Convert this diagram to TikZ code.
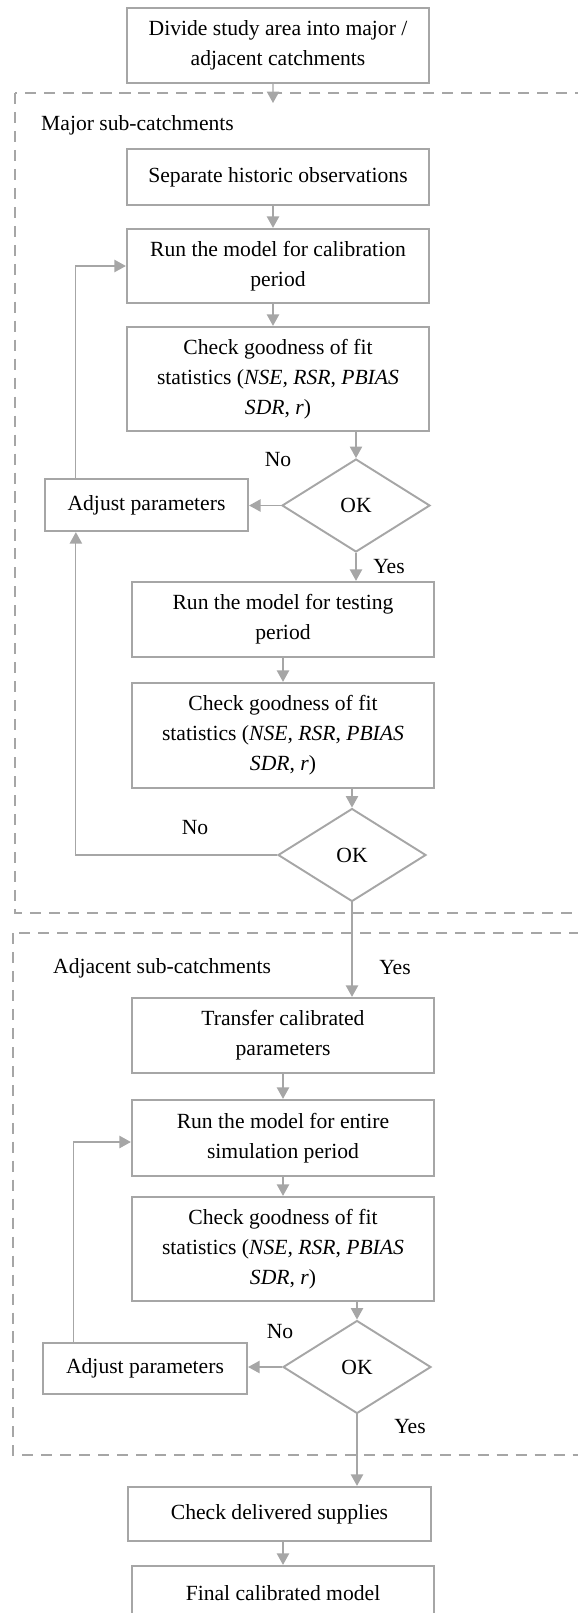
\documentclass[tikz,border=0pt]{standalone}
\usepackage{fontspec}
\setmainfont{Liberation Serif}
\usetikzlibrary{arrows.meta,shapes.geometric}
\definecolor{flowgray}{RGB}{166,166,166}

\begin{document}
\begin{tikzpicture}[x=0.02cm,y=-0.02cm,font=\fontsize{12.3}{17}\selectfont,
  box/.style={draw=flowgray,line width=1.3pt,minimum width=6.04cm,align=center,inner sep=0pt},
  okbox/.style={diamond,draw=flowgray,line width=1.1pt,aspect=1.6,minimum width=2.96cm,minimum height=1.86cm,inner sep=0pt},
  groupbox/.style={draw=flowgray,line width=1.1pt,dash pattern=on 6.3pt off 4.5pt},
  arr/.style={draw=flowgray,line width=0.7pt,-{Triangle[length=6.5pt,width=7pt]}}]
\path[use as bounding box] (0,0) rectangle (578,1613);
\clip (0,0) rectangle (578,1613);

% dashed groups
\draw[groupbox] (15,93) rectangle (600,913);
\draw[groupbox] (13,933) rectangle (600,1455);
\node[anchor=west] (majorlbl) at (35,125) {Major sub-catchments};
\node[anchor=west] (adjlbl) at (47,968) {Adjacent sub-catchments};

\node[box,minimum height=1.5cm] (divide) at (278,45.5) {Divide study area into major /\\adjacent catchments};
\coordinate (majortop) at (273,103);

% major sub-catchments
\node[box,minimum height=1.12cm] (separate) at (278,177) {Separate historic observations};
\node[box,minimum height=1.48cm] (runcal) at (278,266) {Run the model for calibration\\period};
\node[box,minimum height=2.08cm] (check1) at (278,379) {Check goodness of fit\\statistics (\textit{NSE, RSR}, \textit{PBIAS}\\\textit{SDR}, \textit{r})};
\node[okbox] (ok1) at (356,505.5) {OK};
\node[box,minimum width=4.06cm,minimum height=1.04cm] (adjust1) at (146.5,505) {Adjust parameters};
\node[box,minimum height=1.5cm] (runtest) at (283,619.5) {Run the model for testing\\period};
\node[box,minimum height=2.1cm] (check2) at (283,735.5) {Check goodness of fit\\statistics (\textit{NSE, RSR}, \textit{PBIAS}\\\textit{SDR}, \textit{r})};
\node[okbox] (ok2) at (352,855) {OK};

% adjacent sub-catchments
\node[box,minimum height=1.5cm] (transfer) at (283,1035.5) {Transfer calibrated\\parameters};
\node[box,minimum height=1.52cm] (runent) at (283,1138) {Run the model for entire\\simulation period};
\node[box,minimum height=2.08cm] (check3) at (283,1249) {Check goodness of fit\\statistics (\textit{NSE, RSR}, \textit{PBIAS}\\\textit{SDR}, \textit{r})};
\node[okbox] (ok3) at (357,1367) {OK};
\node[box,minimum width=4.08cm,minimum height=1.02cm] (adjust2) at (145,1368.5) {Adjust parameters};

\node[box,minimum width=6.06cm,minimum height=1.08cm] (deliver) at (279.5,1514) {Check delivered supplies};
\node[box,minimum height=1.08cm] (final) at (283,1593) {Final calibrated model};

% yes / no
\node (no1) at (278,460) {No};
\node (yes1) at (389,567) {Yes};
\node (no2) at (195,828) {No};
\node (yes2) at (395,968) {Yes};
\node (no3) at (280,1332) {No};
\node (yes3) at (410,1427) {Yes};

% connectors
\draw[arr] ([xshift=-0.1cm]divide.south) -- (majortop);
\draw[arr] ([xshift=-0.1cm]separate.south) -- ([xshift=-0.1cm]runcal.north);
\draw[arr] ([xshift=-0.1cm]runcal.south) -- ([xshift=-0.1cm]check1.north);
\draw[arr] (ok1.north |- check1.south) -- (ok1.north);
\draw[arr] (ok1.west) -- (ok1.west -| adjust1.east);
\draw[arr] ([xshift=0.64cm]adjust1.north west) |- (runcal.west);
\draw[arr] (ok1.south) -- (ok1.south |- runtest.north);
\draw[arr] (runtest.south) -- (check2.north);
\draw[arr] (ok2.north |- check2.south) -- (ok2.north);
\draw[arr] (ok2.west) -| ([xshift=0.64cm]adjust1.south west);
\draw[arr] (ok2.south) -- (ok2.south |- transfer.north);
\draw[arr] (transfer.south) -- (runent.north);
\draw[arr] (runent.south) -- (check3.north);
\draw[arr] (ok3.north |- check3.south) -- (ok3.north);
\draw[arr] (ok3.west) -- (ok3.west -| adjust2.east);
\draw[arr] ([xshift=0.64cm]adjust2.north west) |- ([yshift=-0.08cm]runent.west);
\draw[arr] (ok3.south) -- (ok3.south |- deliver.north);
\draw[arr] (final.north |- deliver.south) -- (final.north);
\end{tikzpicture}
\end{document}
